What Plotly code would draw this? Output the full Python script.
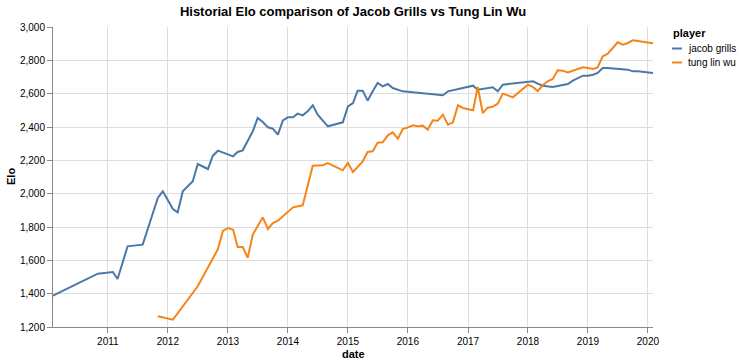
import plotly.graph_objects as go

# ---- data ----
jacob_dates = [
    "2010-02-01", "2010-11-01", "2011-02-01", "2011-03-01", "2011-05-01", "2011-08-01",
    "2011-11-01", "2011-12-01", "2012-02-01", "2012-03-01", "2012-04-01", "2012-06-01",
    "2012-07-01", "2012-09-01", "2012-10-01", "2012-11-01", "2013-02-01", "2013-03-01",
    "2013-04-01", "2013-06-01", "2013-07-01", "2013-08-01", "2013-09-01", "2013-10-01",
    "2013-11-01", "2013-12-01", "2014-01-01", "2014-02-01", "2014-03-01", "2014-04-01",
    "2014-05-01", "2014-06-01", "2014-07-01", "2014-09-01", "2014-12-01", "2015-01-01",
    "2015-02-01", "2015-03-01", "2015-04-01", "2015-05-01", "2015-06-01", "2015-07-01",
    "2015-08-01", "2015-09-01", "2015-10-01", "2015-11-01", "2015-12-01", "2016-08-01",
    "2016-09-01", "2017-02-01", "2017-03-01", "2017-06-01", "2017-07-01", "2017-08-01",
    "2018-01-01", "2018-02-01", "2018-03-01", "2018-04-01", "2018-06-01", "2018-09-01",
    "2018-10-01", "2018-11-01", "2018-12-01", "2019-01-01", "2019-02-01", "2019-03-01",
    "2019-04-01", "2019-05-01", "2019-07-01", "2019-08-01", "2019-09-01", "2019-10-01",
    "2019-11-01", "2020-02-01",
]
jacob_elo = [
    1388, 1520, 1530, 1488, 1684, 1694,
    1974, 2014, 1908, 1888, 2014, 2074,
    2178, 2148, 2228, 2258, 2224, 2250,
    2260, 2374, 2454, 2430, 2398, 2390,
    2354, 2440, 2458, 2458, 2480, 2470,
    2494, 2530, 2474, 2404, 2428, 2524,
    2544, 2618, 2618, 2558, 2614, 2664,
    2644, 2658, 2634, 2624, 2614, 2590,
    2614, 2648, 2624, 2638, 2614, 2654,
    2668, 2674, 2660, 2648, 2640, 2658,
    2678, 2694, 2708, 2708, 2714, 2724,
    2754, 2754, 2748, 2748, 2744, 2734,
    2734, 2724,
]

tung_dates = [
    "2011-11-01", "2012-02-01", "2012-07-01", "2012-11-01", "2012-12-01", "2013-01-01",
    "2013-02-01", "2013-03-01", "2013-04-01", "2013-05-01", "2013-06-01", "2013-08-01",
    "2013-09-01", "2013-10-01", "2013-11-01", "2014-02-01", "2014-04-01", "2014-06-01",
    "2014-08-01", "2014-09-01", "2014-12-01", "2015-01-01", "2015-02-01", "2015-04-01",
    "2015-05-01", "2015-06-01", "2015-07-01", "2015-08-01", "2015-09-01", "2015-10-01",
    "2015-11-01", "2015-12-01", "2016-01-01", "2016-02-01", "2016-03-01", "2016-04-01",
    "2016-05-01", "2016-06-01", "2016-07-01", "2016-08-01", "2016-09-01", "2016-10-01",
    "2016-11-01", "2016-12-01", "2017-02-01", "2017-03-01", "2017-04-01", "2017-05-01",
    "2017-06-01", "2017-07-01", "2017-08-01", "2017-09-01", "2017-10-01", "2018-01-01",
    "2018-02-01", "2018-03-01", "2018-04-01", "2018-05-01", "2018-06-01", "2018-07-01",
    "2018-08-01", "2018-09-01", "2018-10-01", "2018-11-01", "2018-12-01", "2019-01-01",
    "2019-02-01", "2019-03-01", "2019-04-01", "2019-05-01", "2019-06-01", "2019-07-01",
    "2019-08-01", "2019-09-01", "2019-10-01", "2019-11-01", "2020-02-01",
]
tung_elo = [
    1264, 1244, 1444, 1668, 1776, 1794,
    1784, 1680, 1680, 1616, 1754, 1858,
    1788, 1824, 1838, 1918, 1930, 2168,
    2170, 2184, 2140, 2184, 2130, 2194,
    2250, 2254, 2306, 2308, 2350, 2368,
    2330, 2388, 2398, 2410, 2404, 2408,
    2384, 2440, 2438, 2474, 2414, 2428,
    2530, 2514, 2500, 2640, 2484, 2516,
    2522, 2540, 2600, 2590, 2578, 2654,
    2639, 2616, 2650, 2674, 2688, 2740,
    2738, 2728, 2738, 2744, 2758, 2754,
    2748, 2758, 2824, 2838, 2874, 2908,
    2894, 2904, 2920, 2916, 2902,
]

series_names = ["jacob grills", "tung lin wu"]
series_colors = ["#4c78a8", "#f58518"]
y_ticks = [1200, 1400, 1600, 1800, 2000, 2200, 2400, 2600, 2800, 3000]

FONT = "Liberation Sans, Arial, Helvetica, sans-serif"

fig = go.Figure()
for name, color, xs, ys in [
    (series_names[0], series_colors[0], jacob_dates, jacob_elo),
    (series_names[1], series_colors[1], tung_dates, tung_elo),
]:
    fig.add_trace(go.Scatter(x=xs, y=ys, mode="lines", name=name,
                             line=dict(color=color, width=2), showlegend=False))

fig.update_layout(
    width=740, height=364,
    margin=dict(l=53, r=87, t=27, b=37),
    paper_bgcolor="white", plot_bgcolor="white",
    font=dict(family=FONT, size=10, color="#000"),
    title=dict(text="<b>Historial Elo comparison of Jacob Grills vs Tung Lin Wu</b>",
               x=0.5, xref="paper", xanchor="center",
               y=1 - 11 / 364, yref="container", yanchor="middle",
               font=dict(size=13, family=FONT, color="#000")),
    xaxis=dict(
        type="date", range=["2010-02-01", "2020-02-01"],
        tick0="2011-01-01", dtick="M12", tickformat="%Y",
        showgrid=True, gridcolor="#ddd", gridwidth=1,
        showline=True, linecolor="#888", linewidth=1,
        ticks="outside", ticklen=5, tickcolor="#888",
        tickfont=dict(size=10, family=FONT, color="#000"),
        zeroline=False,
    ),
    yaxis=dict(
        range=[1200, 3000], tickvals=y_ticks, tickformat=",d",
        showgrid=True, gridcolor="#ddd", gridwidth=1,
        showline=True, linecolor="#888", linewidth=1,
        ticks="outside", ticklen=5, tickcolor="#888",
        tickfont=dict(size=10, family=FONT, color="#000"),
        zeroline=False,
    ),
)

# axis titles
fig.add_annotation(text="<b>date</b>", xref="paper", yref="paper", x=0.5, y=0,
                   yshift=-27, showarrow=False, font=dict(size=11, family=FONT, color="#000"),
                   yanchor="middle")
fig.add_annotation(text="<b>Elo</b>", xref="paper", yref="paper", x=0, y=0.5,
                   xshift=-42, showarrow=False, textangle=-90,
                   font=dict(size=11, family=FONT, color="#000"), xanchor="center")

# legend (drawn manually to match compact symbols)
fig.add_annotation(text="<b>player</b>", xref="paper", yref="paper",
                   x=1, xshift=18, y=1, yshift=-6, xanchor="left", yanchor="middle",
                   showarrow=False, font=dict(size=11, family=FONT, color="#000"))
for i, (name, color) in enumerate(zip(series_names, series_colors)):
    ypix = 48.5 + 14 * i  # pixel from top of figure
    yp = 1 - (ypix - 27) / 300
    fig.add_shape(type="line", xref="paper", yref="paper",
                  x0=1 + 19 / 600, x1=1 + 29 / 600, y0=yp, y1=yp,
                  line=dict(color=color, width=2))
    fig.add_annotation(text=name, xref="paper", yref="paper",
                       x=1 + 33 / 600, y=yp, xanchor="left", yanchor="middle",
                       showarrow=False, font=dict(size=10, family=FONT, color="#000"))

fig.write_html("out.html", config={"displayModeBar": False},
               post_script="document.body.style.margin='0';document.body.style.overflow='hidden';")
